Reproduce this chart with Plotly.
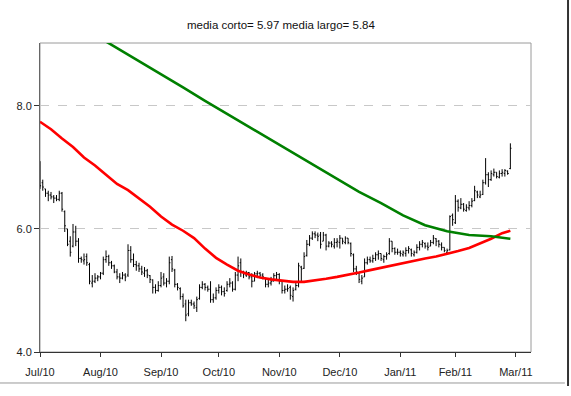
import plotly.graph_objects as go

# ---- data (trading-day index based) ----
month_labels = ["Jul/10", "Aug/10", "Sep/10", "Oct/10", "Nov/10", "Dec/10", "Jan/11", "Feb/11", "Mar/11"]
month_start_idx = [0, 22, 44, 65, 87, 109, 131, 151, 173]

open_ = [7.05, 6.75, 6.65, 6.58, 6.55, 6.52, 6.50, 6.48, 6.58, 6.28,
         6.00, 5.80, 5.72, 5.95, 5.80, 5.52, 5.48, 5.55, 5.42, 5.12,
         5.15, 5.20, 5.22, 5.28, 5.50, 5.55, 5.45, 5.40, 5.30, 5.22,
         5.20, 5.25, 5.25, 5.65, 5.50, 5.42, 5.40, 5.35, 5.28, 5.32,
         5.24, 5.17, 5.05, 5.00, 5.08, 5.22, 5.12, 5.15, 5.50, 5.33,
         5.10, 5.03, 4.90, 4.78, 4.62, 4.80, 4.78, 4.72, 4.87, 5.05,
         5.10, 5.05, 5.02, 4.85, 4.88, 5.00, 5.05, 4.98, 5.00, 5.10,
         5.12, 5.02, 5.25, 5.45, 5.30, 5.25, 5.29, 5.22, 5.15, 5.27,
         5.28, 5.25, 5.20, 5.10, 5.12, 5.15, 5.24, 5.26, 5.15, 5.00,
         5.02, 5.05, 4.90, 5.02, 5.08, 5.38, 5.36, 5.57, 5.75, 5.85,
         5.92, 5.90, 5.90, 5.80, 5.90, 5.72, 5.77, 5.72, 5.78, 5.78,
         5.85, 5.78, 5.85, 5.76, 5.58, 5.35, 5.28, 5.15, 5.22, 5.45,
         5.50, 5.48, 5.52, 5.58, 5.60, 5.50, 5.55, 5.60, 5.80, 5.68,
         5.62, 5.62, 5.58, 5.60, 5.65, 5.66, 5.58, 5.62, 5.70, 5.75,
         5.76, 5.72, 5.72, 5.78, 5.84, 5.80, 5.74, 5.70, 5.62, 5.66,
         6.22, 6.10, 6.45, 6.34, 6.40, 6.30, 6.34, 6.38, 6.46, 6.60,
         6.52, 6.56, 6.75, 6.88, 6.80, 6.88, 6.92, 6.84, 6.90, 6.90,
         6.94, 6.98]

high = [7.10, 6.80, 6.65, 6.62, 6.60, 6.55, 6.55, 6.62, 6.60, 6.30,
        6.00, 5.88, 6.08, 6.05, 5.85, 5.55, 5.60, 5.60, 5.45, 5.25,
        5.28, 5.25, 5.30, 5.55, 5.65, 5.58, 5.48, 5.42, 5.35, 5.28,
        5.30, 5.28, 5.75, 5.72, 5.60, 5.48, 5.45, 5.40, 5.38, 5.35,
        5.25, 5.18, 5.10, 5.15, 5.30, 5.28, 5.20, 5.55, 5.56, 5.35,
        5.12, 5.05, 4.95, 4.85, 4.85, 4.85, 4.82, 4.90, 5.10, 5.15,
        5.12, 5.08, 5.15, 4.95, 5.05, 5.10, 5.08, 5.05, 5.15, 5.20,
        5.15, 5.30, 5.55, 5.52, 5.32, 5.32, 5.30, 5.28, 5.30, 5.32,
        5.30, 5.28, 5.20, 5.18, 5.22, 5.28, 5.30, 5.28, 5.15, 5.08,
        5.10, 5.08, 5.05, 5.12, 5.45, 5.40, 5.62, 5.82, 5.90, 5.96,
        5.96, 5.94, 5.95, 5.95, 5.92, 5.80, 5.80, 5.85, 5.85, 5.90,
        5.85, 5.88, 5.85, 5.78, 5.60, 5.40, 5.30, 5.25, 5.52, 5.55,
        5.55, 5.58, 5.62, 5.65, 5.60, 5.58, 5.62, 5.85, 5.80, 5.70,
        5.68, 5.65, 5.65, 5.70, 5.72, 5.68, 5.65, 5.75, 5.80, 5.82,
        5.78, 5.78, 5.82, 5.90, 5.85, 5.82, 5.78, 5.70, 5.68, 6.22,
        6.25, 6.55, 6.48, 6.50, 6.42, 6.40, 6.45, 6.50, 6.70, 6.62,
        6.62, 6.80, 7.15, 6.92, 6.95, 6.98, 6.92, 6.95, 6.97, 6.97,
        6.95, 7.39]

low = [6.65, 6.62, 6.52, 6.45, 6.48, 6.42, 6.45, 6.45, 6.28, 5.95,
       5.72, 5.55, 5.70, 5.72, 5.45, 5.45, 5.42, 5.40, 5.10, 5.05,
       5.12, 5.15, 5.18, 5.25, 5.45, 5.40, 5.35, 5.28, 5.18, 5.12,
       5.18, 5.15, 5.22, 5.45, 5.38, 5.32, 5.30, 5.25, 5.22, 5.20,
       5.12, 4.95, 4.95, 4.98, 5.05, 5.08, 5.05, 5.10, 5.30, 5.05,
       5.00, 4.85, 4.72, 4.50, 4.58, 4.75, 4.70, 4.65, 4.85, 5.02,
       5.00, 4.98, 4.80, 4.80, 4.85, 4.95, 4.92, 4.90, 4.98, 5.05,
       4.98, 5.00, 5.15, 5.22, 5.20, 5.22, 5.18, 5.05, 5.15, 5.20,
       5.20, 5.18, 5.05, 5.05, 5.08, 5.15, 5.18, 5.10, 4.95, 4.95,
       4.98, 4.85, 4.82, 5.00, 5.05, 5.15, 5.35, 5.55, 5.72, 5.82,
       5.85, 5.80, 5.68, 5.80, 5.65, 5.70, 5.70, 5.68, 5.70, 5.68,
       5.75, 5.75, 5.75, 5.55, 5.30, 5.25, 5.12, 5.10, 5.22, 5.42,
       5.45, 5.45, 5.48, 5.50, 5.48, 5.45, 5.50, 5.58, 5.62, 5.58,
       5.58, 5.55, 5.55, 5.55, 5.60, 5.55, 5.55, 5.60, 5.65, 5.70,
       5.68, 5.65, 5.72, 5.75, 5.72, 5.70, 5.65, 5.62, 5.60, 5.65,
       6.05, 6.08, 6.28, 6.32, 6.28, 6.28, 6.30, 6.35, 6.45, 6.50,
       6.50, 6.55, 6.72, 6.68, 6.78, 6.85, 6.82, 6.82, 6.85, 6.85,
       6.88, 6.97]

close = [6.70, 6.68, 6.58, 6.55, 6.52, 6.50, 6.48, 6.58, 6.32, 6.05,
         5.75, 5.62, 5.95, 5.80, 5.52, 5.50, 5.50, 5.45, 5.15, 5.15,
         5.20, 5.22, 5.28, 5.50, 5.55, 5.45, 5.40, 5.30, 5.22, 5.20,
         5.25, 5.22, 5.65, 5.50, 5.42, 5.40, 5.35, 5.30, 5.32, 5.25,
         5.18, 5.05, 5.00, 5.08, 5.20, 5.12, 5.15, 5.45, 5.35, 5.10,
         5.05, 4.90, 4.75, 4.60, 4.80, 4.78, 4.75, 4.85, 5.05, 5.10,
         5.05, 5.02, 4.85, 4.88, 5.00, 5.05, 4.98, 4.95, 5.10, 5.12,
         5.02, 5.25, 5.40, 5.30, 5.27, 5.29, 5.22, 5.15, 5.27, 5.28,
         5.25, 5.22, 5.10, 5.12, 5.15, 5.24, 5.26, 5.15, 5.00, 5.02,
         5.03, 4.92, 5.00, 5.08, 5.40, 5.35, 5.55, 5.75, 5.85, 5.92,
         5.90, 5.88, 5.75, 5.90, 5.72, 5.77, 5.75, 5.78, 5.80, 5.85,
         5.80, 5.85, 5.78, 5.60, 5.35, 5.30, 5.18, 5.20, 5.45, 5.50,
         5.48, 5.52, 5.58, 5.60, 5.52, 5.55, 5.58, 5.80, 5.68, 5.62,
         5.62, 5.60, 5.62, 5.65, 5.68, 5.60, 5.62, 5.70, 5.75, 5.78,
         5.72, 5.70, 5.78, 5.85, 5.80, 5.75, 5.70, 5.65, 5.65, 6.20,
         6.15, 6.45, 6.35, 6.40, 6.32, 6.35, 6.38, 6.45, 6.62, 6.55,
         6.55, 6.75, 6.88, 6.80, 6.90, 6.92, 6.85, 6.90, 6.92, 6.95,
         6.90, 7.31]

# short moving average ("media corto"), read at sampled bar indices
red_idx = [0, 4, 8, 12, 16, 20, 24, 28, 32, 36, 40, 44, 48, 52, 56, 60, 64, 68, 72, 76,
           80, 84, 88, 92, 96, 100, 104, 108, 112, 116, 120, 124, 128, 132, 136, 140,
           144, 148, 152, 156, 160, 164, 168, 171]
red_val = [7.74, 7.62, 7.47, 7.33, 7.16, 7.03, 6.88, 6.73, 6.63, 6.50,
           6.36, 6.20, 6.07, 5.97, 5.85, 5.68, 5.53, 5.42, 5.32, 5.26,
           5.21, 5.18, 5.16, 5.14, 5.14, 5.16, 5.19, 5.22, 5.25, 5.29,
           5.33, 5.37, 5.41, 5.45, 5.48, 5.52, 5.55, 5.59, 5.64, 5.69,
           5.76, 5.84, 5.93, 5.97]

# long moving average ("media largo")
green_idx = [20, 28, 36, 44, 52, 60, 68, 76, 84, 92, 100, 108, 116, 124, 132, 140, 148, 156, 164, 171]
green_val = [9.15, 8.94, 8.73, 8.51, 8.30, 8.08, 7.87, 7.66, 7.44, 7.23,
             7.02, 6.81, 6.60, 6.42, 6.22, 6.06, 5.96, 5.90, 5.88, 5.84]

title_text = "media corto= 5.97 media largo= 5.84"
y_ticks = [4.0, 6.0, 8.0]

# ---- figure ----
FONT = "Liberation Sans, Arial, sans-serif"
bar_idx = list(range(len(close)))

fig = go.Figure()
fig.add_trace(go.Ohlc(
    x=bar_idx, open=open_, high=high, low=low, close=close,
    increasing=dict(line=dict(color="black", width=1)),
    decreasing=dict(line=dict(color="black", width=1)),
    tickwidth=0.4, hoverinfo="skip", showlegend=False,
))
fig.add_trace(go.Scatter(x=red_idx, y=red_val, mode="lines",
                         line=dict(color="#ff0000", width=2.6),
                         showlegend=False, hoverinfo="skip"))
fig.add_trace(go.Scatter(x=green_idx, y=green_val, mode="lines",
                         line=dict(color="#008000", width=2.6),
                         showlegend=False, hoverinfo="skip"))

fig.update_layout(
    width=571, height=396,
    margin=dict(l=40, r=40, t=43, b=44, autoexpand=False),
    paper_bgcolor="white", plot_bgcolor="white",
    font=dict(family=FONT, size=11, color="#222"),
    title=dict(text=title_text, x=0.492, xanchor="center", y=0.937, yanchor="middle",
               font=dict(family=FONT, size=11.5, color="#111")),
    showlegend=False,
    shapes=[
        dict(type="rect", xref="paper", yref="paper", x0=0, x1=1, y0=0, y1=1,
             line=dict(color="#9a9a9a", width=1), layer="below"),
        dict(type="line", xref="paper", yref="paper", x0=1.0754, x1=1.0754, y0=1.2, y1=-0.11,
             line=dict(color="#333", width=2)),
        dict(type="line", xref="paper", yref="paper", x0=-0.1, x1=1.069, y0=-0.1003, y1=-0.1003,
             line=dict(color="#999", width=1)),
    ],
)
fig.update_xaxes(
    range=[0, 178.5], tickmode="array", tickvals=month_start_idx, ticktext=month_labels,
    showgrid=False, zeroline=False, showline=True, linecolor="#333", linewidth=1,
    ticks="outside", ticklen=4, tickcolor="#333", automargin=False, ticklabelstandoff=6,
    rangeslider=dict(visible=False), fixedrange=True,
)
fig.update_yaxes(
    range=[4.0, 9.02], tickmode="array", tickvals=y_ticks, tickformat=".1f",
    showgrid=True, gridcolor="#c8c8c8", griddash="dash", gridwidth=1,
    zeroline=False, showline=True, linecolor="#666", linewidth=1,
    ticks="outside", ticklen=5, tickcolor="#333", automargin=False, fixedrange=True,
)

fig.write_html("out.html", config={"displayModeBar": False},
               post_script="document.body.style.margin='0';document.body.style.padding='0';")
